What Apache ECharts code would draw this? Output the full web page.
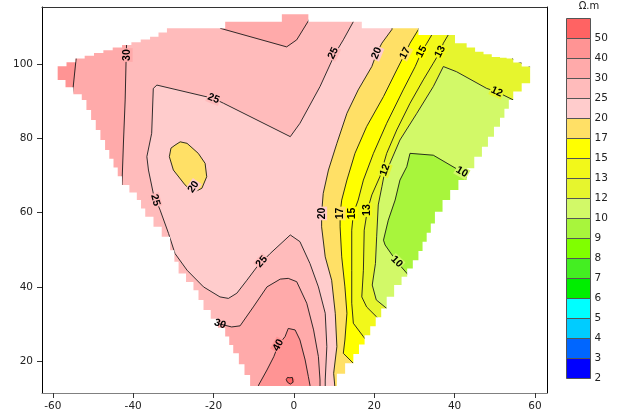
<!DOCTYPE html>
<html><head><meta charset="utf-8">
<script src="https://cdn.jsdelivr.net/npm/echarts@6/dist/echarts.min.js"></script>
<style>html,body{margin:0;padding:0;background:#fff}#c{width:627px;height:416px}</style>
</head><body><div id="c"></div>
<script>
// ---------------- data ----------------
const levels = [2,3,4,5,6,7,8,9,10,12,13,15,17,20,25,30,40,50];
const unitTitle = 'Ω.m';
const xTicks = [-60,-40,-20,0,20,40,60];
const yTicks = [20,40,60,80,100];

// survey outline (clockwise: top, right, bottom, left)
const outline = [
 [-58.8,99.5],[-54.4,101.6],[-35.8,107.4],[-31.6,109.7],[-18.4,109.7],[-17.1,111.5],[-5.1,111.5],[-3.0,113.5],[3.6,113.5],[5.5,111.5],[16.9,111.5],[18.5,109.7],[31.0,109.7],[32.6,107.9],[40.1,107.9],[43.0,105.7],[47.2,103.4],[51.3,102.0],[54.6,101.6],[58.8,99.4],
 [58.8,94.9],[54.6,90.4],[51.3,83.2],[46.8,75.1],[43.0,68.8],[38.9,63.4],[35.1,57.1],[31.0,47.2],[26.8,40.5],[23.1,34.2],[19.0,27.0],[14.8,19.4],[10.7,13.8],[10.7,13.3],
 [-10.9,13.3],
 [-15.1,22.1],[-17.1,26.6],[-22.5,33.8],[-25.0,39.1],[-28.7,43.6],[-30.8,49.9],[-32.9,53.5],[-37.0,58.9],[-39.1,63.4],[-42.8,67.5],[-47.0,76.9],[-52.8,90.4],[-54.9,91.9],[-58.8,95.8]
];

// contour lines (polylines)
const c40TopLeft = [[-54.0,104.5],[-54.2,101.6],[-55.1,92.2],[-55.4,89.5]];
const c30Left = [[-41.5,110],[-41.6,107.0],[-41.75,102.0],[-42.0,90.4],[-42.4,79.6],[-42.8,67.5],[-44,65]];
const c30Top = [[-19.2,112.5],[-18.3,109.7],[-1.8,104.7],[0.7,106.6],[4.0,112.4],[4.8,114.0]];
const c30Bottom = [[-22.5,31.0],[-18.4,30.0],[-15.5,29.2],[-13.4,29.5],[-10.1,34.6],[-6.7,40.0],[-3.4,42.1],[-1.4,42.3],[0.7,41.4],[3.2,35.6],[4.9,28.4],[6.1,21.2],[6.5,14.9],[6.5,12.4]];
const c40Bottom = [[-9.0,12.4],[-8.8,13.5],[-6.7,17.6],[-5.0,21.2],[-3.9,24.3],[-2.2,26.6],[-1.4,28.8],[0.3,28.4],[1.5,25.7],[2.8,20.3],[3.6,15.8],[4.0,13.5],[4.1,12.4]];
const c50Blob = [[-1.9,15.0],[-1.6,15.6],[-1.0,15.5],[-0.4,15.6],[0.05,15.1],[-0.2,14.3],[-0.9,13.8],[-1.6,14.3],[-1.9,15.0]];
const c25 = [[15.5,113],[14.8,111.5],[12.3,106.6],[10.3,103.0],[6.5,94.0],[1.5,84.1],[-0.9,80.5],[-17.5,89.5],[-20.0,90.8],[-34.1,94.4],[-35.0,93.5],[-35.4,81.4],[-36.6,75.1],[-36.2,71.5],[-35.0,65.2],[-33.3,60.7],[-31.2,54.4],[-29.6,49.0],[-26.6,44.5],[-22.5,40.0],[-18.4,37.3],[-16.3,36.9],[-14.2,38.3],[-11.7,41.8],[-9.2,45.4],[-5.9,49.0],[-0.9,54.0],[1.5,52.2],[4.0,46.3],[6.1,40.0],[7.8,32.9],[8.2,23.9],[7.8,14.9],[7.8,12.4]];
const c20Ellipse = [[-29.6,78.2],[-28.3,79.1],[-26.6,78.7],[-23.8,76.0],[-22.1,73.3],[-21.7,69.7],[-22.9,66.6],[-25.0,65.4],[-27.1,67.5],[-30.0,71.5],[-31.0,75.1],[-30.6,77.4],[-29.6,78.2]];
const c20 = [[24.6,111],[24.4,109.4],[21.9,105.7],[20.6,103.0],[19.4,99.4],[16.0,93.1],[13.2,86.8],[10.7,78.7],[8.6,71.5],[7.3,65.2],[6.9,59.8],[6.9,56.2],[7.8,48.1],[9.4,41.8],[10.3,32.9],[10.7,23.9],[9.9,16.7],[10.2,13.0],[10.3,12.4]];
const c17 = [[31.2,111.2],[31.0,109.4],[28.9,105.7],[27.7,103.0],[25.6,98.5],[22.3,91.3],[18.1,83.2],[15.2,76.0],[13.2,68.8],[11.9,63.4],[11.5,59.8],[11.5,56.2],[11.9,48.1],[12.7,40.0],[13.2,32.9],[12.7,25.7],[12.3,22.1],[14.8,19.4],[16.5,18.0]];
const c15 = [[34.5,110],[34.3,107.9],[33.1,105.7],[31.8,103.4],[30.2,99.4],[27.2,93.1],[23.1,84.1],[19.8,76.0],[17.3,68.8],[16.0,63.4],[14.8,59.8],[14.4,55.3],[14.4,44.5],[14.4,35.6],[14.8,30.2],[17.3,26.6],[18.8,24.5]];
const c13 = [[38.6,110],[38.4,107.9],[37.2,105.7],[36.4,103.4],[34.7,100.3],[32.2,95.8],[28.9,89.5],[25.6,82.3],[23.1,76.0],[21.4,69.7],[19.4,64.8],[18.3,60.7],[17.5,55.3],[17.3,44.5],[16.9,37.3],[18.1,34.6],[20.6,31.9],[21.2,31.1],[22.0,30.0]];
const c13Corner = [[53.8,102.5],[54.6,101.3],[58.8,99.4],[59.5,98.8]];
const c12 = [[56.3,89.6],[54.6,90.4],[50.5,92.6],[48.0,93.5],[40.5,98.0],[37.2,99.4],[34.7,94.0],[30.6,86.8],[26.4,79.6],[23.9,73.3],[22.7,71.5],[21.9,67.0],[21.0,62.1],[20.6,53.5],[20.3,46.3],[19.5,40.5],[20.5,36.5],[23.1,34.2],[24.0,33.5]];
const c10 = [[44.0,68.4],[41.8,71.0],[34.7,75.5],[28.9,76.0],[28.1,72.4],[26.4,68.8],[25.2,63.4],[23.5,58.0],[22.3,52.6],[22.7,51.3],[25.6,46.8],[28.5,43.2],[29.2,42.4]];

// contour labels: [value, x, y]
const contourLabels = [
 [30,-41.5,102.5],[25,9.8,103.0],[20,20.6,103.0],[17,27.7,103.0],[15,31.8,103.4],[13,36.4,103.4],
 [12,50.5,92.6],[10,41.8,71.0],[12,22.7,71.5],[25,-20.0,90.8],[20,-25.0,67.0],[25,-34.5,63.4],
 [25,-8.0,46.8],[30,-18.4,30.0],[40,-3.9,24.3],[20,6.9,59.8],[17,11.5,59.8],[15,14.6,59.8],[13,18.1,60.7],[10,25.6,46.8]
];

// ---------------- styles ----------------
const palette = ['#0000FF','#0066FF','#00CCFF','#00FFFF','#00EE00','#44EE22','#80FF00','#A8F53C','#D2F968','#E6F52E','#F2F81A','#FFFF00','#FFE066','#FFCCCC','#FFBBBB','#FFAAAA','#FF9494','#FF6363'];
const labelAngles = [90,64,67,63,63,63,-24,-30,70,-22,55,-74,49,-20,61,90,90,90,90,-45];
const labelNoPlate = {13:true};
function bandColor(v){ return palette[levels.indexOf(v)]; }

// axis extent
const XL=-62.7, XR=63.0, YB=11.4, YT=115.45;
// fill extent (kept inside the frame; outside of the survey it is masked)
const FL=-61.5, FR=61.5, FB=12.4, FT=114.8;

function stairify(poly){
  const cx=0, cy=65, out=[];
  for (let i=0;i<poly.length;i++){
    const a=poly[i], b=poly[(i+1)%poly.length];
    out.push(a);
    const dx=b[0]-a[0], dy=b[1]-a[1];
    if (Math.abs(dx)<1e-6||Math.abs(dy)<1e-6) continue;
    const n=Math.max(1, Math.round(Math.max(Math.abs(dx)/2.2, Math.abs(dy)/2.6)));
    for (let k=0;k<n;k++){
      const p=[a[0]+dx*k/n, a[1]+dy*k/n], q=[a[0]+dx*(k+1)/n, a[1]+dy*(k+1)/n];
      const side=(pt)=>(q[0]-p[0])*(pt[1]-p[1])-(q[1]-p[1])*(pt[0]-p[0]);
      const sc=side([cx,cy]);
      const c1=[q[0],p[1]], c2=[p[0],q[1]];
      const c=(side(c1)*sc>0)?c1:c2;
      if (k>0) out.push(p);
      out.push(c);
    }
  }
  return out;
}
const stairOutline = stairify(outline);

const last = a => a[a.length-1];
const fills = [
  {pts:[[FL,FB],[FR,FB],[FR,FT],[FL,FT]], v:25},
  {pts:c30Left.concat([[FL,last(c30Left)[1]],[FL,FT],[c30Left[0][0],FT]]), v:30},
  {pts:c30Top.concat([[last(c30Top)[0],FT],[c30Top[0][0],FT]]), v:30},
  {pts:c30Bottom.concat([[c30Bottom[0][0],FB]]), v:30},
  {pts:c40TopLeft.concat([[FL,last(c40TopLeft)[1]],[FL,FT],[c40TopLeft[0][0],FT]]), v:40},
  {pts:c40Bottom, v:40},
  {pts:c50Blob, v:50},
  {pts:c25.concat([[FR,FB],[FR,FT],[c25[0][0],FT]]), v:20},
  {pts:c20Ellipse, v:17},
  {pts:c20.concat([[FR,FB],[FR,FT],[c20[0][0],FT]]), v:17},
  {pts:c17.concat([[FR,last(c17)[1]],[FR,FT],[c17[0][0],FT]]), v:15},
  {pts:c15.concat([[FR,last(c15)[1]],[FR,FT],[c15[0][0],FT]]), v:13},
  {pts:c13.concat([[FR,last(c13)[1]],[FR,FT],[c13[0][0],FT]]), v:12},
  {pts:c13Corner.concat([[FR,last(c13Corner)[1]],[FR,FT],[c13Corner[0][0],FT]]), v:13},
  {pts:c12.concat([[FR,last(c12)[1]],[FR,c12[0][1]]]), v:10},
  {pts:c10.concat([[FR,last(c10)[1]],[FR,c10[0][1]]]), v:9}
];
const contourLines = [c40TopLeft,c30Left,c30Top,c30Bottom,c40Bottom,c50Blob,c25,c20Ellipse,c20,c17,c15,c13,c13Corner,c12,c10];

const series = [];
series.push({
  type:'custom', z:1, silent:true, animation:false,
  data: fills.map((f,i)=>[0,50,i]),
  renderItem(params, api){
    const f = fills[api.value(2)];
    const col = bandColor(f.v);
    return {type:'polygon', shape:{points:f.pts.map(p=>api.coord(p))}, style:{fill:col, stroke:col, lineWidth:0.6}};
  }
});
contourLines.forEach(c=>{
  series.push({type:'line', data:c, symbol:'none', showSymbol:false, z:3, silent:true, animation:false,
    lineStyle:{color:'#1a1a1a', width:0.9}});
});
series.push({
  type:'custom', z:4, silent:true, animation:false, data:[[0,50]],
  renderItem(params, api){
    const TL=[XL,YT], TR=[XR,YT], BR=[XR,YB], BL=[XL,YB];
    const o=stairOutline;
    const pts=[TL,TR,BR,BL,TL,o[0]].concat(o.slice(1).reverse(),[o[0]]);
    return {type:'polygon', shape:{points:pts.map(p=>api.coord(p))}, style:{fill:'#ffffff', stroke:null}};
  }
});
series.push({
  type:'custom', z:6, silent:true, animation:false,
  data: contourLabels.map((l,i)=>[l[1],l[2],i]),
  renderItem(params, api){
    const i=api.value(2), l=contourLabels[i];
    const pt=api.coord([l[1],l[2]]);
    const st={text:String(l[0]), font:'bold 10.5px "Liberation Sans", Arial, sans-serif', fill:'#000', align:'center', verticalAlign:'middle'};
    if(!labelNoPlate[i]){ st.backgroundColor=bandColor(l[0]); st.padding=[0,1]; }
    return {type:'text', x:pt[0], y:pt[1], rotation:labelAngles[i]*Math.PI/180, style:st};
  }
});

// colour bar
const graphics=[];
const cbX=566.5, cbY=18.5, cbW=24, cbH=20, n=levels.length;
for(let k=0;k<n;k++){
  const i=n-1-k;
  graphics.push({type:'rect', shape:{x:cbX,y:cbY+k*cbH,width:cbW,height:cbH}, style:{fill:palette[i], stroke:'#555', lineWidth:1}});
  graphics.push({type:'text', x:cbX+cbW+4, y:cbY+(k+1)*cbH, style:{text:String(levels[i]), font:'10.5px "DejaVu Sans", sans-serif', fill:'#222', align:'left', verticalAlign:'middle'}});
}
graphics.push({type:'text', x:589, y:6.5, style:{text:unitTitle, font:'10px "DejaVu Sans", sans-serif', fill:'#222', align:'center', verticalAlign:'middle'}});

const axisFont = {color:'#222', fontSize:10.5, fontFamily:'DejaVu Sans'};
const option = {
  animation:false,
  backgroundColor:'#fff',
  grid:{left:42, right:80, top:7, bottom:23},
  xAxis:[
    {type:'value', position:'bottom', min:XL, max:XR, z:8,
     axisLine:{show:true, onZero:false, lineStyle:{color:'#808080', width:1}},
     axisTick:{show:true, customValues:xTicks, length:5, lineStyle:{color:'#333'}},
     axisLabel:Object.assign({customValues:xTicks, margin:8}, axisFont),
     splitLine:{show:false}},
    {type:'value', position:'top', min:XL, max:XR, z:8,
     axisLine:{show:true, onZero:false, lineStyle:{color:'#333'}},
     axisTick:{show:false}, axisLabel:{show:false}, splitLine:{show:false}}
  ],
  yAxis:[
    {type:'value', position:'left', min:YB, max:YT, z:8,
     axisLine:{show:true, onZero:false, lineStyle:{color:'#000'}},
     axisTick:{show:true, customValues:yTicks, length:5, lineStyle:{color:'#333'}},
     axisLabel:Object.assign({customValues:yTicks, margin:9}, axisFont),
     splitLine:{show:false}},
    {type:'value', position:'right', min:YB, max:YT, z:8,
     axisLine:{show:true, onZero:false, lineStyle:{color:'#000'}},
     axisTick:{show:false}, axisLabel:{show:false}, splitLine:{show:false}}
  ],
  graphic:{elements:graphics},
  series
};
const chart = echarts.init(document.getElementById('c'), null, {renderer:'canvas'});
chart.setOption(option);
</script>
</body></html>
